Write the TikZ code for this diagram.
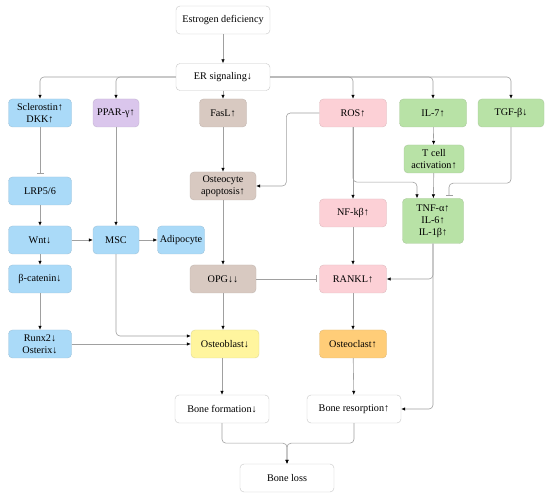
\documentclass[tikz,border=0pt]{standalone}
\usepackage{fontspec}
\setmainfont{Liberation Serif}
\usetikzlibrary{arrows.meta}

\definecolor{cblue}{RGB}{170,218,248}
\definecolor{cpurple}{RGB}{218,198,236}
\definecolor{ctan}{RGB}{216,201,193}
\definecolor{cpink}{RGB}{252,208,214}
\definecolor{cgreen}{RGB}{184,226,166}
\definecolor{cyellow}{RGB}{255,245,158}
\definecolor{corange}{RGB}{255,205,120}
\definecolor{cline}{RGB}{160,160,160}

\begin{document}
\begin{tikzpicture}[x=1pt, y=-1pt,
    box/.style={draw=#1!75!gray, fill=#1, rounded corners=4pt, minimum height=28pt,
        align=center, inner sep=1pt, font=\fontsize{10.2}{12}\selectfont},
    whitebox/.style={box=white, draw=black!22, minimum width=94pt},
    arr/.style={draw=cline, line width=0.6pt, rounded corners=4pt,
        -{Latex[length=4pt,width=3.5pt,black]}},
    inh/.style={draw=cline, line width=0.6pt, rounded corners=4pt,
        -{Bar[width=7pt]}, shorten >=3pt}]
    \useasboundingbox (0,0) rectangle (550,500);

    % top
    \node[whitebox] (est) at (223,20) {Estrogen deficiency};
    \node[whitebox, minimum height=27pt] (er) at (223,77) {ER signaling↓};

    % first row
    \node[box=cblue, minimum width=63pt] (scl) at (40,113) {Sclerostin↑\\DKK↑};
    \node[box=cpurple, minimum width=46pt] (ppar) at (116,113) {PPAR-γ↑};
    \node[box=ctan, minimum width=47pt] (fasl) at (223,113) {FasL↑};
    \node[box=cpink, minimum width=67pt] (ros) at (353,113) {ROS↑};
    \node[box=cgreen, minimum width=67pt] (il7) at (433,113) {IL-7↑};
    \node[box=cgreen, minimum width=66pt] (tgf) at (511,113) {TGF-β↓};

    % Wnt side
    \node[box=cblue, minimum width=63pt] (lrp) at (40,191) {LRP5/6};
    \node[box=cblue, minimum width=63pt] (wnt) at (40,240) {Wnt↓};
    \node[box=cblue, minimum width=46pt] (msc) at (116,240) {MSC};
    \node[box=cblue, minimum width=47pt] (adipo) at (181,240) {Adipocyte};
    \node[box=cblue, minimum width=63pt] (bcat) at (40,279) {β-catenin↓};
    \node[box=cblue, minimum width=63pt] (runx) at (40,344) {Runx2↓\\Osterix↓};

    % middle column
    \node[box=ctan, minimum width=66pt] (apop) at (223,186) {Osteocyte\\apoptosis↑};
    \node[box=ctan, minimum width=66pt] (opg) at (223,279) {OPG↓↓};
    \node[box=cyellow, minimum width=68pt] (ob) at (225,344) {Osteoblast↓};

    % osteoclast side
    \node[box=cgreen, minimum width=60pt] (tcell) at (434,159) {T cell\\activation↑};
    \node[box=cpink, minimum width=67pt] (nfkb) at (353,213) {NF-kβ↑};
    \node[box=cgreen, minimum width=61pt, minimum height=45pt] (tnf) at (433,221) {TNF-α↑\\IL-6↑\\IL-1β↑};
    \node[box=cpink, minimum width=67pt] (rankl) at (353,279) {RANKL↑};
    \node[box=corange, minimum width=67pt] (oc) at (353,344) {Osteoclast↑};

    % bottom
    \node[whitebox] (form) at (222,409) {Bone formation↓};
    \node[whitebox] (res) at (354,409) {Bone resorption↑};
    \node[whitebox] (loss) at (287,478) {Bone loss};

    % ER signaling branches
    \draw[arr] (est) -- (er);
    \draw[arr] (er.west) -| (scl.north);
    \draw[arr] (er.west) -| (ppar.north);
    \draw[arr] (er) -- (fasl);
    \draw[arr] (er.east) -| (ros.north);
    \draw[arr] (er.east) -| (il7.north);
    \draw[arr] (er.east) -| (tgf.north);

    % Wnt pathway
    \draw[inh] (scl) -- (lrp);
    \draw[arr] (lrp) -- (wnt);
    \draw[arr] (wnt) -- (bcat);
    \draw[arr] (bcat) -- (runx);
    \draw[arr] (wnt) -- (msc);
    \draw[arr] (ppar) -- (msc);
    \draw[arr] (msc) -- (adipo);
    \draw[arr] (msc.south) |- ([yshift=8pt]ob.west);
    \draw[arr] (runx) -- (ob);

    % osteocyte and OPG
    \draw[arr] (fasl) -- (apop);
    \draw[arr] (ros.west) -- ++(-33,0) |- (apop.east);
    \draw[arr] (apop) -- (opg);
    \draw[arr] (opg) -- (opg |- ob.north);
    \draw[inh] (opg) -- (rankl);

    % cytokines and RANKL
    \draw[arr] (ros) -- (nfkb);
    \draw[arr] (ros.south) -- ++(0,55) -| ([xshift=-16pt]tnf.north);
    \draw[arr] (il7) -- (tcell);
    \draw[arr] (tcell) -- (tnf);
    \draw[inh] (tgf.south) -- ++(0,56) -| ([xshift=16pt]tnf.north);
    \draw[arr] (nfkb) -- (rankl);
    \draw[arr] (tnf.south) |- (rankl.east);
    \draw[arr] (tnf.south) |- (res.east);
    \draw[arr] (rankl) -- (oc);

    % bone outcome
    \draw[arr] (ob.south -| form) -- (form);
    \draw[arr] (oc) -- (res);
    \draw[arr] (form.south) -- ++(0,20) -| (loss.north);
    \draw[arr] (res.south) -- ++(0,20) -| (loss.north);
\end{tikzpicture}
\end{document}
